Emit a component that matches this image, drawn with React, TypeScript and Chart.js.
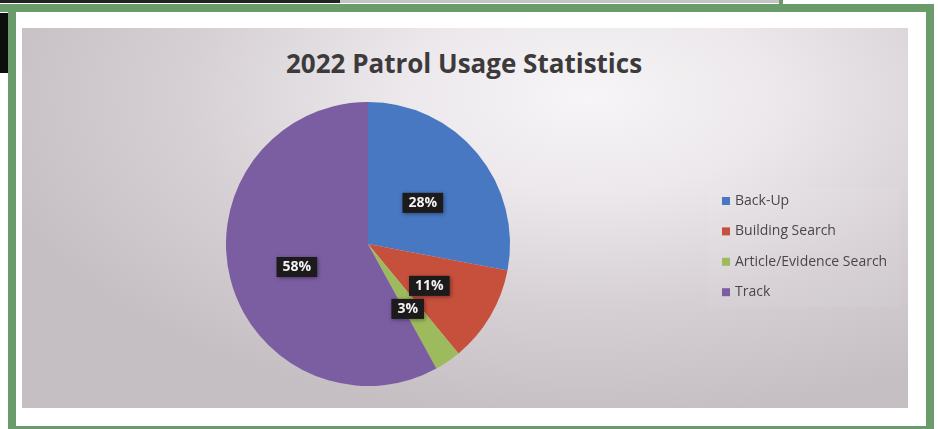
import React, { useEffect, useRef } from "react";
import { Chart, registerables } from "chart.js";

Chart.register(...registerables);

const titleText = "2022 Patrol Usage Statistics";
const categories = ["Back-Up", "Building Search", "Article/Evidence Search", "Track"];
const percentages = [28, 11, 3, 58];
const sliceColors = ["#4878c2", "#c7503c", "#9dbb5c", "#7b5ea2"];

const FONT = "'Open Sans', 'Liberation Sans', sans-serif";

const labelPlugin = {
  id: "boxLabels",
  afterDatasetsDraw(chart: any) {
    const ctx = chart.ctx;
    const meta = chart.getDatasetMeta(0);
    ctx.save();
    ctx.font = `bold 14px ${FONT}`;
    ctx.textAlign = "center";
    ctx.textBaseline = "middle";
    meta.data.forEach((arc: any, i: number) => {
      const p = arc.getProps(["x", "y", "startAngle", "endAngle", "outerRadius"], true);
      const mid = (p.startAngle + p.endAngle) / 2;
      const r = p.outerRadius * 0.51;
      const px = p.x + Math.cos(mid) * r - 1;
      const py = p.y + Math.sin(mid) * r + 5;
      const txt = `${percentages[i]}%`;
      const w = ctx.measureText(txt).width + 12;
      const h = 20;
      ctx.shadowColor = "rgba(0,0,0,0.4)";
      ctx.shadowBlur = 4;
      ctx.shadowOffsetX = 1;
      ctx.shadowOffsetY = 1;
      ctx.fillStyle = "#1c1a1b";
      ctx.fillRect(px - w / 2, py - h / 2, w, h);
      ctx.shadowColor = "transparent";
      ctx.fillStyle = "#f2f2f2";
      ctx.fillText(txt, px, py + 0.5);
    });
    ctx.restore();
  },
};

const legendPlugin = {
  id: "sideLegend",
  afterDraw(chart: any) {
    const ctx = chart.ctx;
    ctx.save();
    ctx.fillStyle = "rgba(255,255,255,0.06)";
    ctx.fillRect(708, 188, 192, 119);
    ctx.font = `14px ${FONT}`;
    ctx.textAlign = "left";
    ctx.textBaseline = "middle";
    categories.forEach((c, i) => {
      const y = 201 + i * 30.4;
      ctx.fillStyle = sliceColors[i];
      ctx.fillRect(722, y - 4, 8, 8);
      ctx.fillStyle = "#4a4648";
      ctx.fillText(c, 735, y);
    });
    ctx.restore();
  },
};

export default function App() {
  const ref = useRef<HTMLCanvasElement | null>(null);
  useEffect(() => {
    document.body.style.margin = "0";
    if (!ref.current) return;
    const chart = new Chart(ref.current, {
      type: "pie",
      data: {
        labels: categories,
        datasets: [
          {
            data: percentages,
            backgroundColor: sliceColors,
            borderWidth: 0,
          },
        ],
      },
      options: {
        animation: false,
        responsive: false,
        devicePixelRatio: 1,
        layout: { padding: { left: 226, right: 428, top: 102, bottom: 43 } },
        plugins: {
          legend: { display: false },
          tooltip: { enabled: false },
          title: { display: false },
        },
      },
      plugins: [labelPlugin, legendPlugin],
    });
    return () => chart.destroy();
  }, []);

  return (
    <div style={{ position: "fixed", left: 0, top: 0, width: 938, height: 429, background: "#fff", overflow: "hidden" }}>
      {/* page scan remnants at top */}
      <div style={{ position: "absolute", left: 0, top: 0, width: 340, height: 3, background: "#222" }} />
      <div style={{ position: "absolute", left: 340, top: 0, width: 440, height: 3, background: "#c4c4c4" }} />
      <div style={{ position: "absolute", left: 779, top: 0, width: 4, height: 6, background: "#6a9b6b" }} />
      <div style={{ position: "absolute", left: 0, top: 13, width: 8, height: 60, background: "#0e0e0e" }} />
      {/* green frame */}
      <div style={{ position: "absolute", left: 8, top: 4, width: 926, height: 425, boxSizing: "border-box", border: "8.5px solid #6a9b6b", borderBottomWidth: 3 }} />
      <div style={{ position: "absolute", left: 0, top: 4, width: 10, height: 8, background: "#6a9b6b" }} />
      {/* chart background */}
      <div
        style={{
          position: "absolute",
          left: 22,
          top: 28,
          width: 886,
          height: 380,
          background:
            "radial-gradient(ellipse 70% 85% at 64% 18%, #f7f5f7 0%, #ece8eb 30%, #d6d0d4 65%, #c5bec2 100%)",
        }}
      />
      <div
        style={{
          position: "absolute",
          left: 0,
          top: 45,
          width: 928,
          textAlign: "center",
          font: `bold 26px ${FONT}`,
          color: "#3c3a3b",
          whiteSpace: "nowrap",
        }}
      >
        {titleText}
      </div>
      <canvas ref={ref} width={938} height={429} style={{ position: "absolute", left: 0, top: 0, width: 938, height: 429 }} />
    </div>
  );
}
